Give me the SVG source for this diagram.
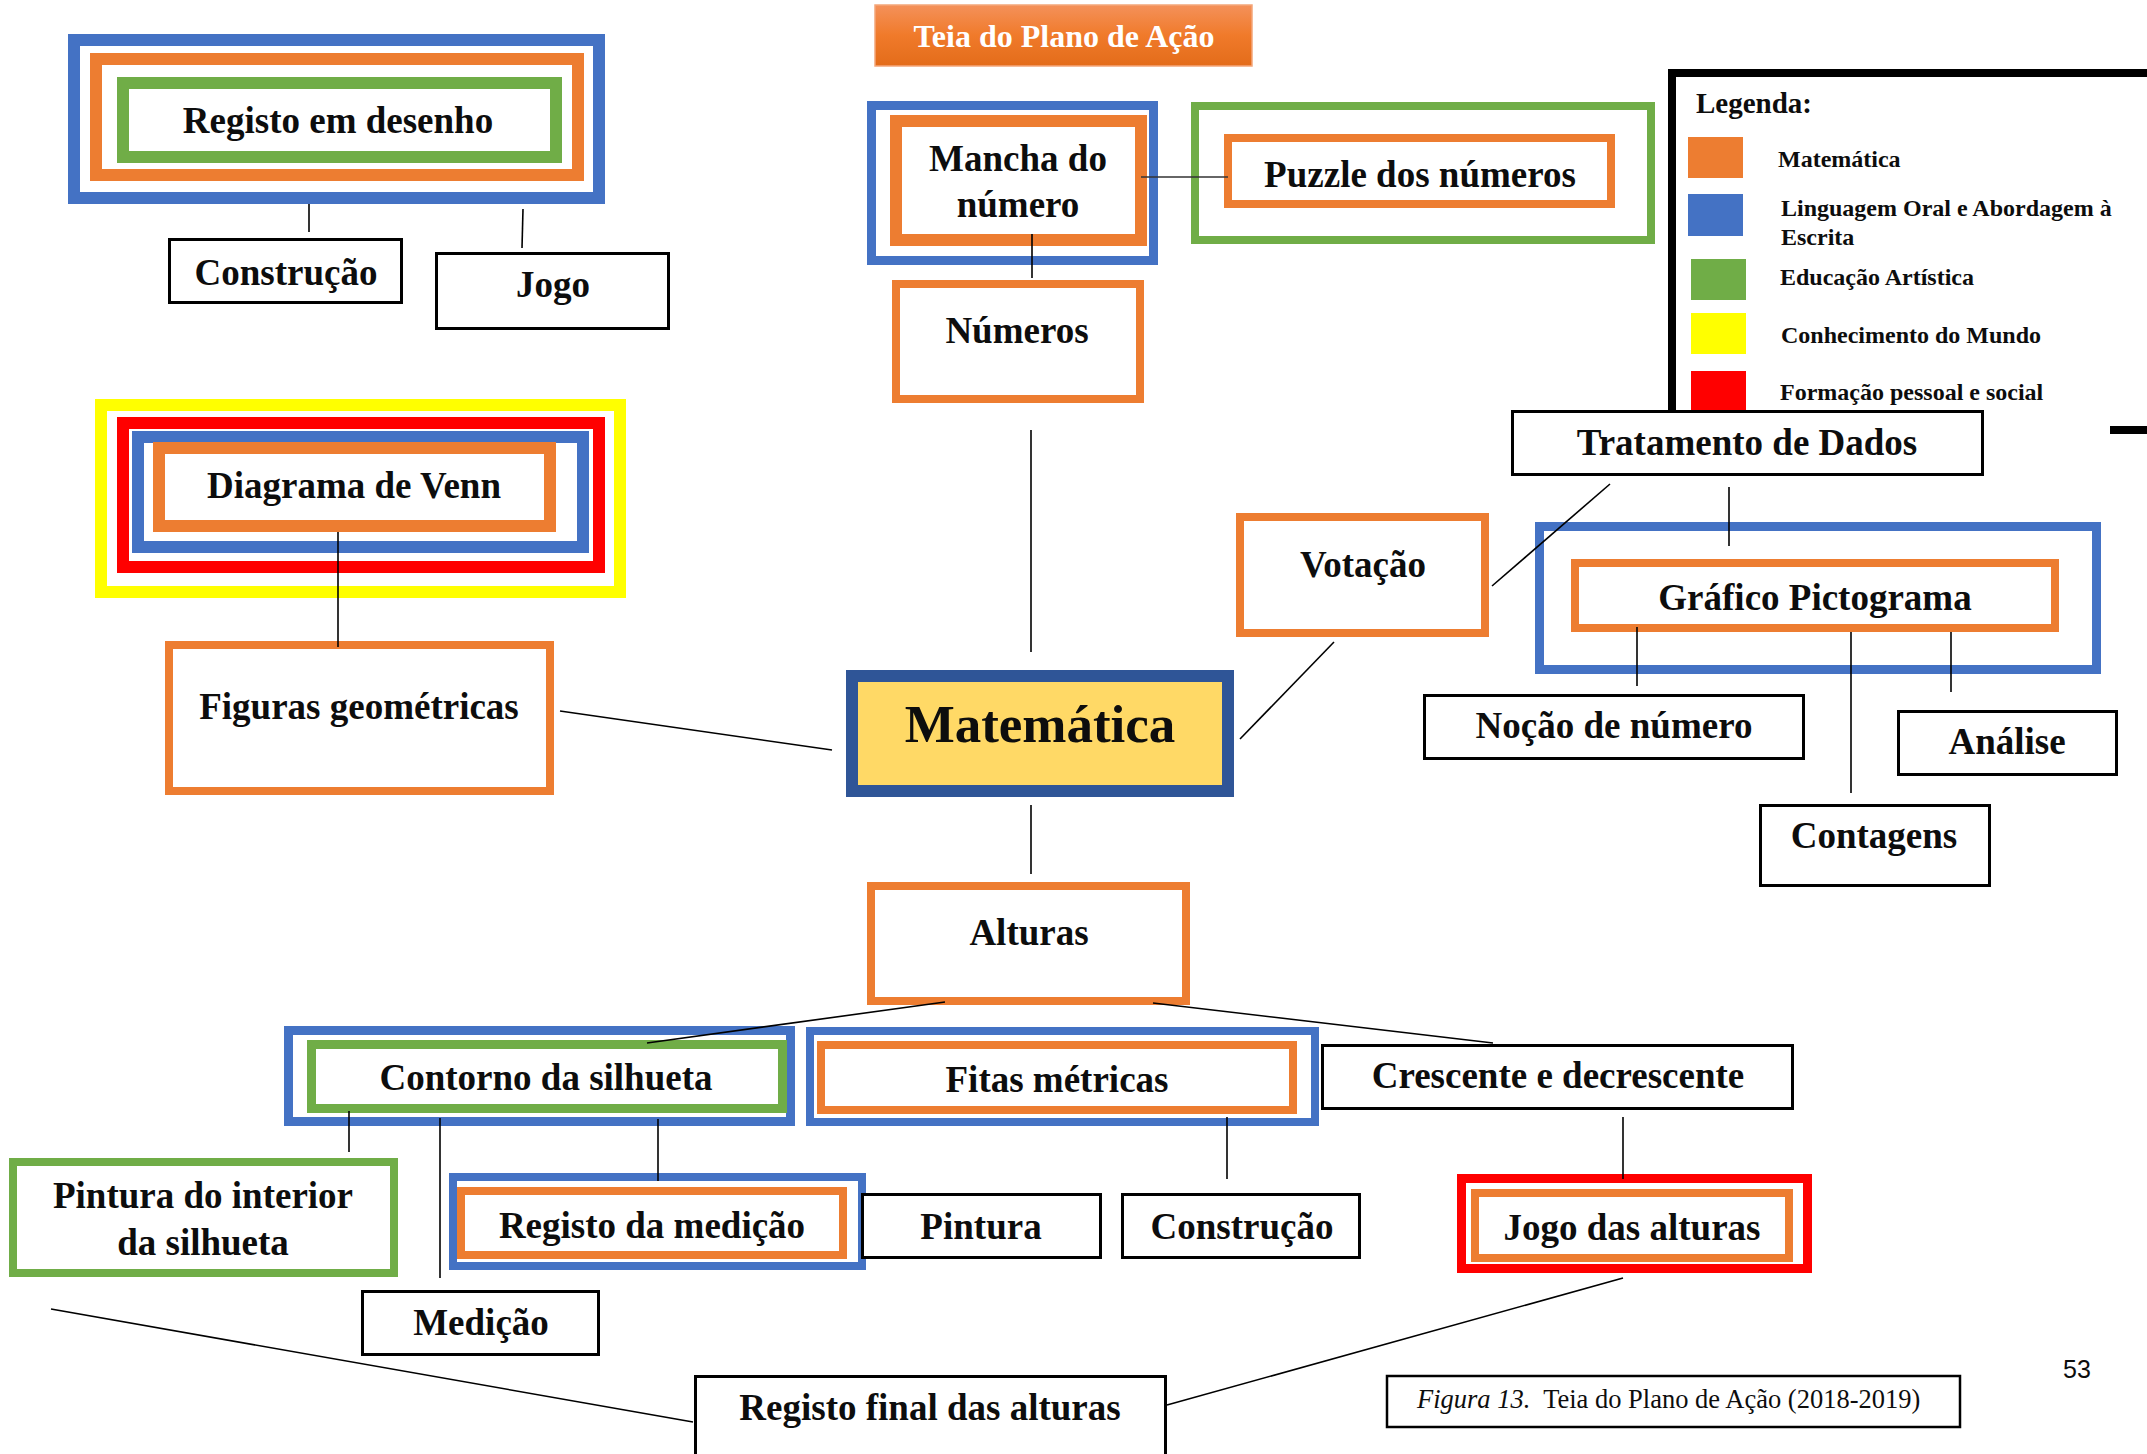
<svg xmlns="http://www.w3.org/2000/svg" width="2147" height="1454" viewBox="0 0 2147 1454">
<defs>
<linearGradient id="tg" x1="0" y1="0" x2="0" y2="1">
<stop offset="0" stop-color="#F4915A"/>
<stop offset="0.5" stop-color="#F07A2A"/>
<stop offset="1" stop-color="#E36C1A"/>
</linearGradient>
</defs>
<style>
text{font-family:"Liberation Serif","Times New Roman",serif;font-weight:bold;fill:#0d0d0d;text-anchor:middle}
.lbl{font-size:37px}
.leg{font-size:24px;text-anchor:start}
.o{fill:none;stroke:#ED7D31}
.b{fill:none;stroke:#4472C4}
.g{fill:none;stroke:#70AD47}
.y{fill:none;stroke:#FFFF00}
.r{fill:none;stroke:#FF0000}
.k{fill:#fff;stroke:#000;stroke-width:3}
.w12{stroke-width:12}
.w8{stroke-width:8}
.w9{stroke-width:9}
#connectors line{stroke:#000;stroke-width:1.6}
</style>
<rect width="2147" height="1454" fill="#fff"/>

<g id="title">
<rect x="875" y="5" width="377" height="61" fill="url(#tg)" stroke="#F4A67A" stroke-width="1.5"/>
<text x="1064" y="47" style="font-size:32px;fill:#fff">Teia do Plano de Ação</text>
</g>

<g id="legend">
<path d="M1672,410 V73 H2150" fill="none" stroke="#000" stroke-width="8"/>
<path d="M2110,430 H2150" fill="none" stroke="#000" stroke-width="8"/>
<text x="1696" y="113" style="font-size:29px;text-anchor:start">Legenda:</text>
<rect x="1688" y="137" width="55" height="41" fill="#ED7D31"/>
<text class="leg" x="1778" y="167">Matemática</text>
<rect x="1688" y="194" width="55" height="42" fill="#4472C4"/>
<text class="leg" x="1781" y="216">Linguagem Oral e Abordagem à</text>
<text class="leg" x="1781" y="245">Escrita</text>
<rect x="1691" y="259" width="55" height="41" fill="#70AD47"/>
<text class="leg" x="1780" y="285">Educação Artística</text>
<rect x="1691" y="313" width="55" height="41" fill="#FFFF00"/>
<text class="leg" x="1781" y="343">Conhecimento do Mundo</text>
<rect x="1691" y="371" width="55" height="45" fill="#FF0000"/>
<text class="leg" x="1780" y="400">Formação pessoal e social</text>
</g>

<g id="registo-desenho">
<rect class="b w12" x="74" y="40" width="525" height="158"/>
<rect class="o w12" x="96" y="59" width="482" height="116"/>
<rect class="g w12" x="123" y="83" width="433" height="74"/>
<text class="lbl" x="338" y="133">Registo em desenho</text>
</g>
<g id="construcao-1">
<rect class="k" x="169.5" y="239.5" width="232" height="63"/>
<text class="lbl" x="286" y="285">Construção</text>
</g>
<g id="jogo">
<rect class="k" x="436.5" y="253.5" width="232" height="75"/>
<text class="lbl" x="553" y="297">Jogo</text>
</g>

<g id="mancha">
<rect class="b w9" x="871.5" y="105.5" width="282" height="155"/>
<rect class="o w12" x="896" y="121" width="245" height="119"/>
<text class="lbl" x="1018" y="171">Mancha do</text>
<text class="lbl" x="1018" y="217">número</text>
</g>
<g id="puzzle">
<rect class="g w8" x="1195" y="106" width="456" height="134"/>
<rect class="o w8" x="1228" y="138" width="383" height="66"/>
<text class="lbl" x="1420" y="187">Puzzle dos números</text>
</g>
<g id="numeros">
<rect class="o w8" x="896" y="284" width="244" height="115"/>
<text class="lbl" x="1017" y="343">Números</text>
</g>

<g id="venn">
<rect class="y w12" x="101" y="405" width="519" height="187"/>
<rect class="r w12" x="123" y="423" width="476" height="144"/>
<rect class="b w12" x="138" y="437" width="445" height="110"/>
<rect class="o w12" x="159" y="448" width="391" height="78"/>
<text class="lbl" x="354" y="498">Diagrama de Venn</text>
</g>
<g id="figuras">
<rect class="o w8" x="169" y="645" width="381" height="146"/>
<text class="lbl" x="359" y="719">Figuras geométricas</text>
</g>

<g id="matematica">
<rect x="852" y="676" width="376" height="115" fill="#FFD966" stroke="#2F5597" stroke-width="12"/>
<text x="1040" y="742" style="font-size:53px">Matemática</text>
</g>

<g id="votacao">
<rect class="o w8" x="1240" y="517" width="245" height="116"/>
<text class="lbl" x="1363" y="577">Votação</text>
</g>
<g id="tratamento">
<rect class="k" x="1512.5" y="411.5" width="470" height="63"/>
<text class="lbl" x="1747" y="455">Tratamento de Dados</text>
</g>
<g id="grafico">
<rect class="b w9" x="1539.5" y="526.5" width="557" height="143"/>
<rect class="o w8" x="1575" y="563" width="480" height="65"/>
<text class="lbl" x="1815" y="610">Gráfico Pictograma</text>
</g>
<g id="nocao">
<rect class="k" x="1424.5" y="695.5" width="379" height="63"/>
<text class="lbl" x="1614" y="738">Noção de número</text>
</g>
<g id="analise">
<rect class="k" x="1898.5" y="711.5" width="218" height="63"/>
<text class="lbl" x="2007" y="754">Análise</text>
</g>
<g id="contagens">
<rect class="k" x="1760.5" y="805.5" width="229" height="80"/>
<text class="lbl" x="1874" y="848">Contagens</text>
</g>

<g id="alturas">
<rect class="o w8" x="871" y="886" width="315" height="115"/>
<text class="lbl" x="1029" y="945">Alturas</text>
</g>
<g id="contorno">
<rect class="b w9" x="288.5" y="1030.5" width="502" height="91"/>
<rect class="g w9" x="311.5" y="1044.5" width="471" height="64"/>
<text class="lbl" x="546" y="1090">Contorno da silhueta</text>
</g>
<g id="fitas">
<rect class="b w8" x="810" y="1031" width="505" height="91"/>
<rect class="o w8" x="821" y="1045" width="472" height="65"/>
<text class="lbl" x="1057" y="1092">Fitas métricas</text>
</g>
<g id="crescente">
<rect class="k" x="1322.5" y="1045.5" width="470" height="63"/>
<text class="lbl" x="1558" y="1088">Crescente e decrescente</text>
</g>
<g id="pintura-interior">
<rect class="g w8" x="13" y="1162" width="381" height="111"/>
<text class="lbl" x="203" y="1208">Pintura do interior</text>
<text class="lbl" x="203" y="1255">da silhueta</text>
</g>
<g id="registo-medicao">
<rect class="b w8" x="453" y="1177" width="409" height="89"/>
<rect class="o w8" x="461" y="1191" width="382" height="64"/>
<text class="lbl" x="652" y="1238">Registo da medição</text>
</g>
<g id="pintura">
<rect class="k" x="862.5" y="1194.5" width="238" height="63"/>
<text class="lbl" x="981" y="1239">Pintura</text>
</g>
<g id="construcao-2">
<rect class="k" x="1122.5" y="1194.5" width="237" height="63"/>
<text class="lbl" x="1242" y="1239">Construção</text>
</g>
<g id="jogo-alturas">
<rect class="r w9" x="1461.5" y="1178.5" width="346" height="90"/>
<rect class="o w8" x="1475" y="1193" width="314" height="65"/>
<text class="lbl" x="1632" y="1240">Jogo das alturas</text>
</g>
<g id="medicao">
<rect class="k" x="362.5" y="1291.5" width="236" height="63"/>
<text class="lbl" x="481" y="1335">Medição</text>
</g>
<g id="registo-final">
<rect class="k" x="695.5" y="1376.5" width="470" height="90"/>
<text class="lbl" x="930" y="1420">Registo final das alturas</text>
</g>

<g id="caption">
<rect x="1387" y="1376" width="573" height="51" fill="#fff" stroke="#000" stroke-width="2.5"/>
<text x="1417" y="1408" style="font-size:26.5px;font-weight:normal;text-anchor:start"><tspan style="font-style:italic">Figura 13.</tspan>&#160; Teia do Plano de Ação (2018-2019)</text>
</g>
<text x="2077" y="1378" style="font-family:'Liberation Sans',Arial,sans-serif;font-weight:normal;font-size:25px">53</text>

<g id="connectors">
<line x1="309" y1="204" x2="309" y2="232"/>
<line x1="523" y1="209" x2="522" y2="248"/>
<line x1="1032" y1="234" x2="1032" y2="278"/>
<line x1="1141" y1="177" x2="1228" y2="177" style="stroke:#333"/>
<line x1="338" y1="532" x2="338" y2="647"/>
<line x1="1031" y1="430" x2="1031" y2="652"/>
<line x1="560" y1="711" x2="832" y2="750"/>
<line x1="1240" y1="739" x2="1334" y2="642"/>
<line x1="1610" y1="484" x2="1492" y2="586"/>
<line x1="1729" y1="487" x2="1729" y2="546"/>
<line x1="1637" y1="627" x2="1637" y2="686"/>
<line x1="1851" y1="632" x2="1851" y2="793"/>
<line x1="1951" y1="632" x2="1951" y2="692"/>
<line x1="1031" y1="805" x2="1031" y2="874"/>
<line x1="945" y1="1002" x2="647" y2="1043"/>
<line x1="1153" y1="1003" x2="1493" y2="1043"/>
<line x1="349" y1="1111" x2="349" y2="1152"/>
<line x1="440" y1="1118" x2="440" y2="1278"/>
<line x1="658" y1="1119" x2="658" y2="1181"/>
<line x1="1227" y1="1117" x2="1227" y2="1179"/>
<line x1="1623" y1="1117" x2="1623" y2="1179"/>
<line x1="1623" y1="1278" x2="1167" y2="1405"/>
<line x1="51" y1="1309" x2="693" y2="1422"/>
</g>
</svg>
